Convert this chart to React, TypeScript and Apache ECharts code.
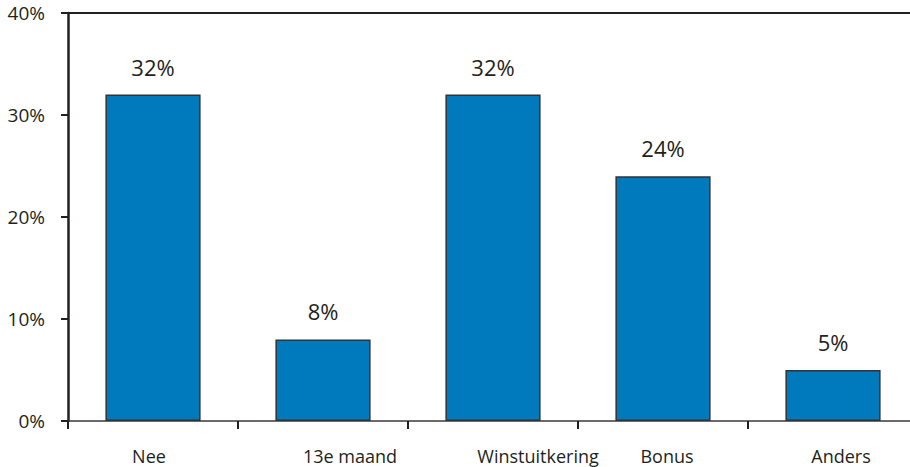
import React, { useEffect, useRef } from "react";
import * as echarts from "echarts";

const categories = ["Nee", "13e maand", "Winstuitkering", "Bonus", "Anders"];
const values = [32, 8, 32, 24, 5];
const yTicks = [0, 10, 20, 30, 40];

const labelShift = [-4, 27, 45, 4, 8];
const FONT = "'Open Sans', sans-serif";

export default function App() {
  const ref = useRef<HTMLDivElement>(null);
  useEffect(() => {
    if (!ref.current) return;
    const chart = echarts.init(ref.current, undefined, { renderer: "svg" });
    const rich: Record<string, any> = {};
    labelShift.forEach((s, i) => {
      rich["c" + i] = {
        fontSize: 18,
        fontFamily: FONT,
        color: "#231f20",
        padding: s >= 0 ? [0, 0, 0, 2 * s] : [0, -2 * s, 0, 0],
      };
    });
    chart.setOption({
      animation: false,
      grid: { left: 68, right: 2, top: 13, bottom: 46, containLabel: false },
      xAxis: [
        {
          type: "category",
          data: categories,
          axisLine: { show: true, lineStyle: { color: "#3a3a3a", width: 1.5 } },
          axisTick: { show: true, length: 8, lineStyle: { color: "#231f20", width: 2 } },
          axisLabel: {
            margin: 26,
            formatter: (v: string, i: number) => `{c${i}|${v}}`,
            rich,
          },
        },
        {
          type: "category",
          position: "top",
          data: categories,
          axisLine: { show: true, lineStyle: { color: "#231f20", width: 2 } },
          axisTick: { show: false },
          axisLabel: { show: false },
        },
      ],
      yAxis: {
        type: "value",
        min: yTicks[0],
        max: yTicks[yTicks.length - 1],
        interval: 10,
        axisLine: { show: true, lineStyle: { color: "#231f20", width: 2.5 } },
        axisTick: { show: true, length: 7, lineStyle: { color: "#231f20", width: 2 } },
        splitLine: { show: false },
        axisLabel: {
          margin: 23,
          formatter: (v: number) => v + "%",
          fontSize: 19,
          fontFamily: FONT,
          color: "#231f20",
        },
      },
      series: [
        {
          type: "bar",
          data: values,
          barWidth: "56%",
          itemStyle: { color: "#0079bd", borderColor: "#333333", borderWidth: 1.5 },
          label: {
            show: true,
            position: "top",
            distance: 17,
            formatter: (p: any) => p.value + "%",
            fontSize: 22,
            fontFamily: FONT,
            color: "#231f20",
          },
        },
      ],
    });
    return () => chart.dispose();
  }, []);
  return (
    <div style={{ position: "absolute", left: 0, top: 0, width: 910, height: 467, overflow: "hidden", background: "#fff" }}>
      <div ref={ref} style={{ width: 920, height: 467 }} />
    </div>
  );
}
